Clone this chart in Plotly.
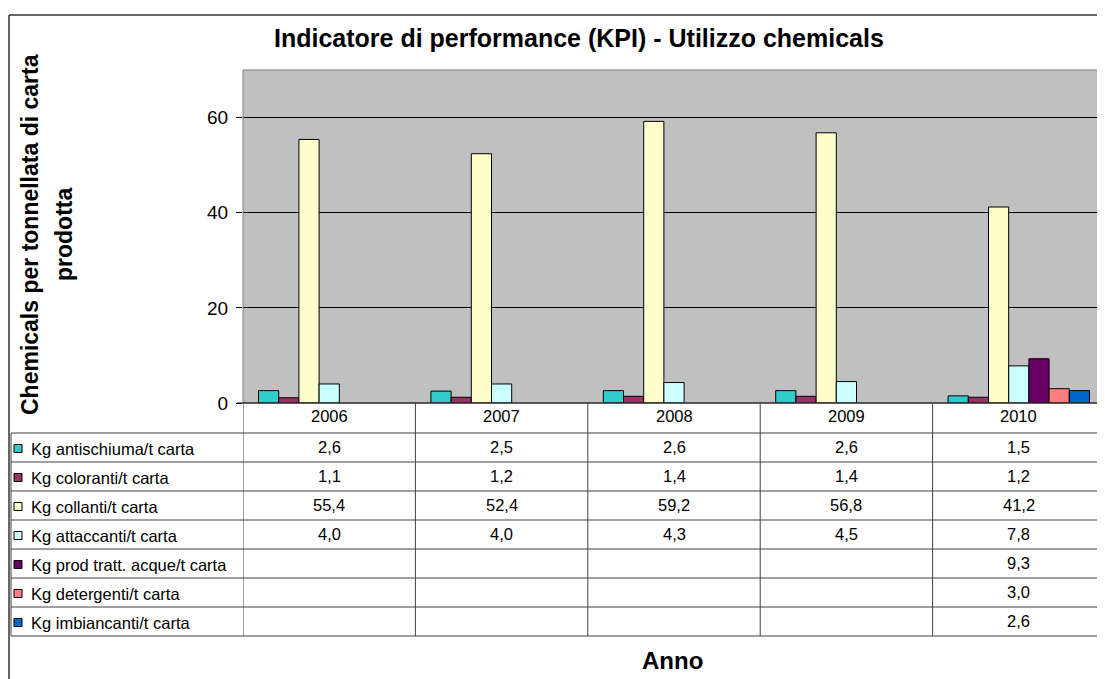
import plotly.graph_objects as go

years = ["2006", "2007", "2008", "2009", "2010"]
series_names = [
    "Kg antischiuma/t carta",
    "Kg coloranti/t carta",
    "Kg collanti/t carta",
    "Kg attaccanti/t carta",
    "Kg prod tratt. acque/t carta",
    "Kg detergenti/t carta",
    "Kg imbiancanti/t carta",
]
antischiuma = [2.6, 2.5, 2.6, 2.6, 1.5]
coloranti = [1.1, 1.2, 1.4, 1.4, 1.2]
collanti = [55.4, 52.4, 59.2, 56.8, 41.2]
attaccanti = [4.0, 4.0, 4.3, 4.5, 7.8]
prod_tratt_acque = [None, None, None, None, 9.3]
detergenti = [None, None, None, None, 3.0]
imbiancanti = [None, None, None, None, 2.6]
series_values = [antischiuma, coloranti, collanti, attaccanti,
                 prod_tratt_acque, detergenti, imbiancanti]
colors = ["#33CCCC", "#993366", "#FFFFCC", "#CCFFFF", "#660066", "#FF8080", "#0066CC"]
y_ticks = [0, 20, 40, 60]
title_text = "Indicatore di performance (KPI) - Utilizzo chemicals"
y_title_lines = ["Chemicals per tonnellata di carta", "prodotta"]
x_title = "Anno"

FONT = "Arial, Liberation Sans, sans-serif"
TABLE_FS = 16.5
OFF = 8  # page body margin
W, H = 1105 - OFF, 679 - OFF
# plot area edges in screen pixels
SL, ST, SB = 243, 70, 403
L, T, B = SL - OFF, ST - OFF, SB - OFF
PW, PH = W - L, B - T


def px_x(p):
    return (p - OFF - L) / PW


def px_y(p):
    return (B - (p - OFF)) / PH


fig = go.Figure()
for name, vals, col in zip(series_names, series_values, colors):
    fig.add_trace(go.Bar(
        x=years, y=vals, name=name,
        marker=dict(color=col, line=dict(color="black", width=1)),
        showlegend=False,
    ))

shapes = []
annotations = []
line_col = "#404040"

# plot area border
shapes.append(dict(type="rect", xref="paper", yref="paper", x0=0, x1=1, y0=0, y1=1,
                   line=dict(color="#808080", width=1), layer="above"))
# outer frame (top and left)
shapes.append(dict(type="line", xref="paper", yref="paper", x0=px_x(9), x1=1.01,
                   y0=px_y(15), y1=px_y(15), line=dict(color="#333333", width=1.5)))
shapes.append(dict(type="line", xref="paper", yref="paper", x0=px_x(9), x1=px_x(9),
                   y0=px_y(15), y1=px_y(700), line=dict(color="#333333", width=1.5)))

# table geometry (screen pixels)
header_top, header_bot = 403, 433
row_h = 29
n_rows = len(series_names)
table_bot = header_bot + row_h * n_rows

# horizontal lines
shapes.append(dict(type="line", xref="paper", yref="paper", x0=px_x(237), x1=1,
                   y0=0, y1=0, line=dict(color="black", width=1)))
for i in range(n_rows + 1):
    yy = px_y(header_bot + row_h * i)
    shapes.append(dict(type="line", xref="paper", yref="paper", x0=px_x(11), x1=1,
                       y0=yy, y1=yy, line=dict(color=line_col, width=1)))
# vertical lines
shapes.append(dict(type="line", xref="paper", yref="paper", x0=px_x(11), x1=px_x(11),
                   y0=px_y(header_bot), y1=px_y(table_bot), line=dict(color=line_col, width=1)))
for k in range(len(years)):
    xb = k - 0.5
    shapes.append(dict(type="line", xref="x", yref="paper", x0=xb, x1=xb,
                       y0=0, y1=px_y(table_bot), line=dict(color=line_col, width=1)))

# header row: year labels
for k, yr in enumerate(years):
    annotations.append(dict(x=k, y=px_y((header_top + header_bot) / 2 - 2), xref="x", yref="paper",
                            text=yr, showarrow=False, xanchor="center", yanchor="middle",
                            font=dict(family=FONT, size=TABLE_FS, color="black")))

# data rows
for i, (name, vals, col) in enumerate(zip(series_names, series_values, colors)):
    cy = header_bot + row_h * i + row_h / 2
    shapes.append(dict(type="rect", xref="paper", yref="paper",
                       x0=px_x(14), x1=px_x(22), y0=px_y(cy - 4 + 1), y1=px_y(cy + 4 + 1),
                       fillcolor=col, line=dict(color="black", width=1)))
    annotations.append(dict(x=px_x(29), y=px_y(cy + 1), xref="paper", yref="paper",
                            text=name, showarrow=False, xanchor="left", yanchor="middle",
                            font=dict(family=FONT, size=TABLE_FS, color="black")))
    for k, v in enumerate(vals):
        if v is None:
            continue
        annotations.append(dict(x=k, y=px_y(cy - 1), xref="x", yref="paper",
                                text=f"{v:.1f}".replace(".", ","), showarrow=False,
                                xanchor="center", yanchor="middle",
                                font=dict(family=FONT, size=TABLE_FS, color="black")))

# title
annotations.append(dict(x=px_x(579), y=px_y(38), xref="paper", yref="paper",
                        text=f"<b>{title_text}</b>",
                        showarrow=False, xanchor="center", yanchor="middle",
                        font=dict(family=FONT, size=25, color="black")))
# y-axis title (two lines)
for xpos, line in zip([30, 64], y_title_lines):
    annotations.append(dict(x=px_x(xpos), y=px_y(235), xref="paper", yref="paper",
                            text=f"<b>{line}</b>",
                            textangle=-90, showarrow=False, xanchor="center", yanchor="middle",
                            font=dict(family=FONT, size=23, color="black")))
# x-axis title
annotations.append(dict(x=px_x(672), y=px_y(660), xref="paper", yref="paper",
                        text=f"<b>{x_title}</b>", showarrow=False, xanchor="center", yanchor="middle",
                        font=dict(family=FONT, size=24, color="black")))

fig.update_layout(
    width=W, height=H,
    margin=dict(l=L, r=0, t=T, b=H - B, pad=0),
    paper_bgcolor="white",
    plot_bgcolor="#C0C0C0",
    barmode="group",
    bargap=0.18,
    bargroupgap=0,
    shapes=shapes,
    annotations=annotations,
    font=dict(family=FONT, color="black"),
    xaxis=dict(type="category", showticklabels=False, ticks="", showgrid=False,
               zeroline=False, showline=False, range=[-0.5, 4.5]),
    yaxis=dict(range=[0, 70], tickvals=y_ticks, ticks="outside", ticklen=6,
               tickcolor="black", showgrid=True, gridcolor="black", gridwidth=1,
               zeroline=False, showline=False, ticklabelstandoff=4,
               tickfont=dict(family=FONT, size=19, color="black")),
)

fig.write_html("out.html")
